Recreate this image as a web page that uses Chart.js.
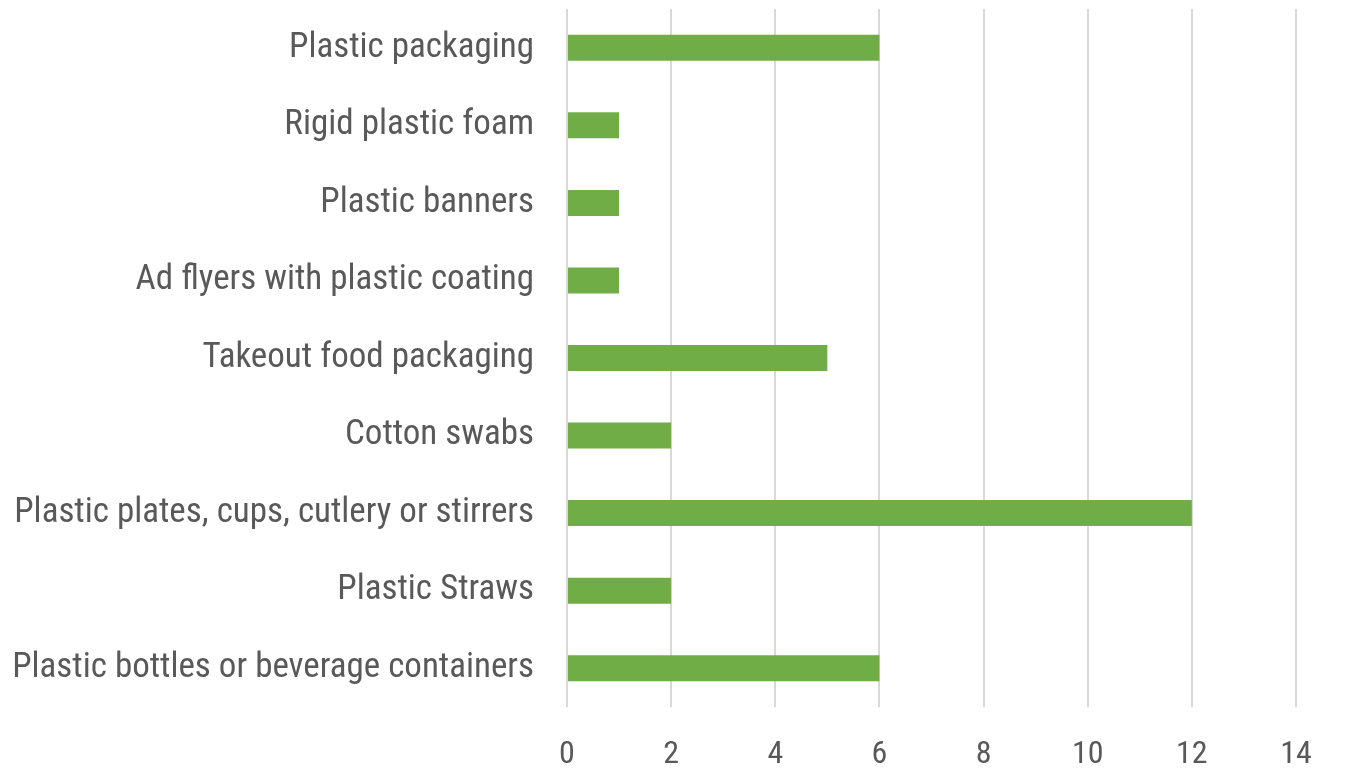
<!DOCTYPE html>
<html>
<head>
<meta charset="utf-8">
<script src="https://cdn.jsdelivr.net/npm/chart.js@4/dist/chart.umd.min.js"></script>
<style>
  html, body { margin: 0; padding: 0; background: #ffffff; }
  #wrap { width: 1345px; height: 774px; position: relative; }
</style>
</head>
<body>
<div id="wrap"><canvas id="barChart"></canvas></div>
<script>
'use strict';

// Categories, top to bottom
const categories = [
  'Plastic packaging',
  'Rigid plastic foam',
  'Plastic banners',
  'Ad flyers with plastic coating',
  'Takeout food packaging',
  'Cotton swabs',
  'Plastic plates, cups, cutlery or stirrers',
  'Plastic Straws',
  'Plastic bottles or beverage containers'
];
const counts = [6, 1, 1, 1, 5, 2, 12, 2, 6];
const xTicks = [0, 2, 4, 6, 8, 10, 12, 14];

const greenColor = '#70AD47',
  gridColor = '#d9d9d9',
  labelColor = '#595959';
const labelFont = "'Liberation Sans Narrow', 'Roboto Condensed', Roboto, sans-serif";

const barChart = document.getElementById('barChart');
new Chart(barChart, {
  type: 'bar',
  data: {
    labels: categories,
    datasets: [
      {
        data: counts,
        backgroundColor: greenColor,
        borderWidth: 0,
        barPercentage: 0.335,
        categoryPercentage: 1
      }
    ]
  },
  options: {
    indexAxis: 'y',
    responsive: true,
    maintainAspectRatio: false,
    animation: false,
    layout: {
      padding: { top: 9, right: 49, left: 0, bottom: 0 }
    },
    plugins: {
      legend: { display: false },
      tooltip: { enabled: false }
    },
    scales: {
      x: {
        min: xTicks[0],
        max: xTicks[xTicks.length - 1],
        afterBuildTicks: function (scale) {
          scale.ticks = xTicks.map(function (v) { return { value: v }; });
        },
        afterFit: function (scale) {
          scale.height = 67;
          scale.paddingLeft = 0;
          scale.paddingRight = 0;
        },
        border: { display: false },
        grid: {
          color: gridColor,
          lineWidth: 2,
          drawTicks: false
        },
        ticks: {
          color: labelColor,
          padding: 29,
          font: { family: labelFont, size: 32 }
        }
      },
      y: {
        // fixed width so the plot starts at the same place; no label overhang padding
        afterFit: function (scale) {
          scale.width = 567;
          scale.paddingTop = 0;
          scale.paddingBottom = 0;
        },
        border: { display: false },
        grid: { display: false, drawTicks: false },
        ticks: {
          color: labelColor,
          padding: 33,
          font: { family: labelFont, size: 35 }
        }
      }
    }
  }
});
</script>
</body>
</html>
